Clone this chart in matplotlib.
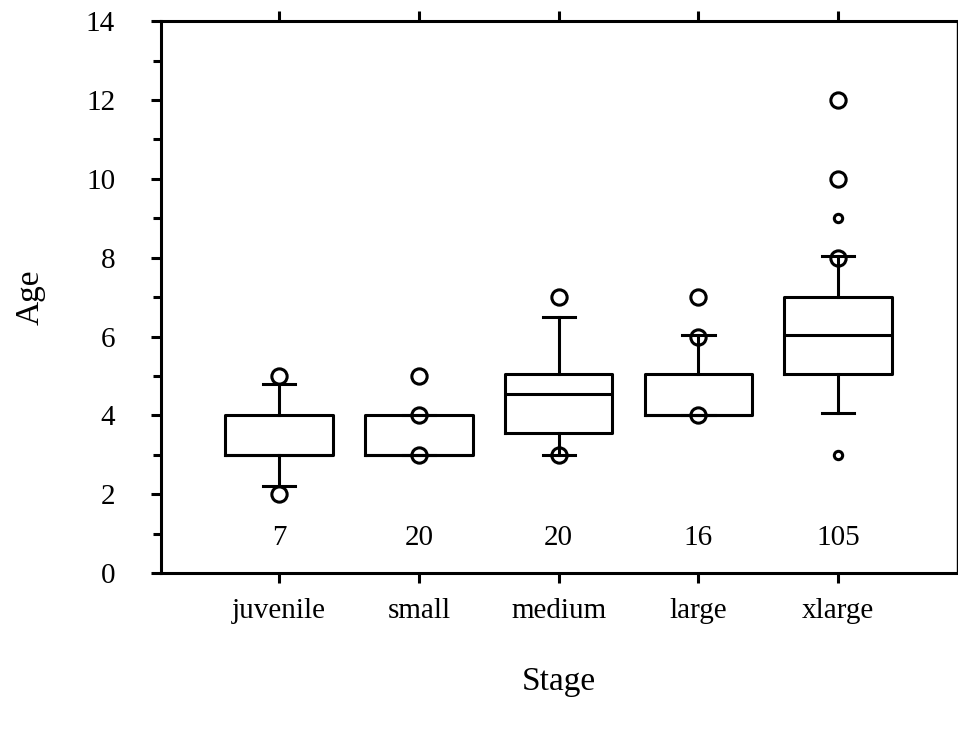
import numpy as np
import matplotlib.pyplot as plt

plt.rcParams['font.family'] = ['Liberation Serif', 'DejaVu Serif']

stages = ['juvenile', 'small', 'medium', 'large', 'xlarge']
counts = [7, 20, 20, 16, 105]
q1 = [3.0, 3.0, 3.55, 4.0, 5.05]
med = [3.0, 3.0, 4.55, 4.0, 6.05]
q3 = [4.0, 4.0, 5.05, 5.05, 7.0]
whislo = [2.2, 3.0, 3.0, 4.0, 4.05]
whishi = [4.8, 4.0, 6.5, 6.05, 8.05]
# outlying ages, drawn with large and small circles
out_big = [[5, 2], [5, 4, 3], [7, 3], [7, 6, 4], [12, 10, 8]]
out_small = [[], [], [], [], [9, 3]]

lw = 2.2
fig = plt.figure(figsize=(9.58, 7.30), dpi=100)
ax = fig.add_axes([0.168, 0.215, 0.831, 0.756])

pos = np.arange(1, len(stages) + 1)
stats = []
for i in range(len(stages)):
    stats.append({'q1': q1[i], 'med': med[i], 'q3': q3[i],
                  'whislo': whislo[i], 'whishi': whishi[i], 'fliers': []})

line = dict(color='black', linewidth=lw)
ax.bxp(stats, positions=pos, widths=0.77, showfliers=False,
       boxprops=line, whiskerprops=line, capprops=line, medianprops=line,
       capwidths=0.23)

for i in range(len(stages)):
    ax.plot([pos[i]] * len(out_big[i]), out_big[i], 'o', ms=11, mfc='none',
            mec='black', mew=lw, zorder=3)
    if out_small[i]:
        ax.plot([pos[i]] * len(out_small[i]), out_small[i], 'o', ms=6,
                mfc='none', mec='black', mew=lw, zorder=3)
    ax.text(pos[i], 0.9, str(counts[i]), ha='center', va='center', fontsize=21)

ax.set_xlim(0.155, 5.85)
ax.set_ylim(0, 14)
ax.set_xticks(pos)
ax.set_xticklabels(stages)
ax.set_yticks(np.arange(0, 15, 2))
ax.set_yticks(np.arange(1, 14, 2), minor=True)

ax.tick_params(axis='both', which='major', direction='out', width=lw,
               labelsize=21, length=7)
ax.tick_params(axis='x', top=True, pad=11)
ax.tick_params(axis='y', pad=26)
ax.tick_params(axis='y', which='minor', direction='out', width=lw, length=6)

for s in ['left', 'bottom', 'top']:
    ax.spines[s].set_linewidth(lw)
ax.spines['right'].set_linewidth(1)

ax.set_ylabel('Age', fontsize=24)
ax.set_xlabel('Stage', fontsize=24)
ax.yaxis.set_label_coords(-0.145, 0.5)
ax.xaxis.set_label_coords(0.5, -0.17)

fig.savefig('out.png', dpi=100)
